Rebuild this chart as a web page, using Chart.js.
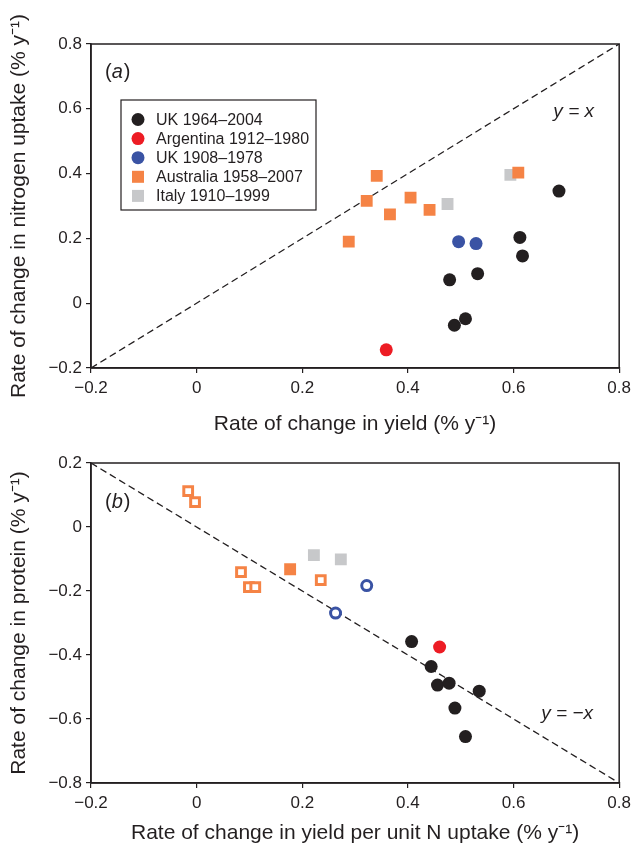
<!DOCTYPE html>
<html>
<head>
<meta charset="utf-8">
<script src="https://cdn.jsdelivr.net/npm/chart.js@4.4.1/dist/chart.umd.min.js"></script>
<style>
  body { margin: 0; background: #fff; }
  .wrap { width: 636px; position: relative; }
  canvas { display: block; }
</style>
</head>
<body>
<div class="wrap"><canvas id="chartA" width="636" height="440"></canvas></div>
<div class="wrap"><canvas id="chartB" width="636" height="409"></canvas></div>
<script>
// values
const axisTicks = [-0.2, 0, 0.2, 0.4, 0.6, 0.8];
const axisTicksB = [-0.8, -0.6, -0.4, -0.2, 0, 0.2];
const seriesNames = ["UK 1964–2004", "Argentina 1912–1980", "UK 1908–1978", "Australia 1958–2007", "Italy 1910–1999"];

// (a) yield vs nitrogen uptake
const ukRecentYieldA = [0.686, 0.612, 0.617, 0.532, 0.479, 0.509, 0.488];
const ukRecentNA = [0.346, 0.203, 0.146, 0.091, 0.072, -0.048, -0.068];
const argYieldA = [0.359];
const argNA = [-0.144];
const ukOldYieldA = [0.496, 0.529];
const ukOldNA = [0.190, 0.184];
const ausYieldA = [0.341, 0.322, 0.288, 0.366, 0.405, 0.441, 0.609];
const ausNA = [0.393, 0.316, 0.190, 0.274, 0.326, 0.288, 0.403];
const italyYieldA = [0.475, 0.594];
const italyNA = [0.306, 0.396];
const lineAX = [-0.2, 0.8];
const lineAY = [-0.2, 0.8];

// (b) yield per unit N vs protein
const ukRecentXB = [0.407, 0.444, 0.456, 0.478, 0.535, 0.489, 0.509];
const ukRecentYB = [-0.358, -0.436, -0.494, -0.488, -0.513, -0.566, -0.655];
const argXB = [0.460];
const argYB = [-0.375];
const ukOldXB = [0.322, 0.263];
const ukOldYB = [-0.183, -0.269];
const ausFilledXB = [0.177];
const ausFilledYB = [-0.132];
const ausOpenXB = [-0.016, -0.003, 0.084, 0.099, 0.111, 0.235];
const ausOpenYB = [0.112, 0.078, -0.141, -0.188, -0.188, -0.166];
const italyXB = [0.222, 0.273];
const italyYB = [-0.088, -0.101];
const lineBX = [-0.2, 0.8];
const lineBY = [0.2, -0.8];

const BLACK = "#231f20", RED = "#ed1c24", BLUE = "#3a53a4", ORANGE = "#f58345", GRAY = "#c7c8ca";
const FONT = "'Liberation Sans', Arial, sans-serif";

const zip = (xs, ys) => xs.map((x, i) => ({ x: x, y: ys[i] }));
const fmt = v => Math.abs(v) < 1e-9 ? "0" : (v < 0 ? "\u2212" + Math.abs(v).toFixed(1) : v.toFixed(1));

function circles(label, xs, ys, color, hollow) {
  return {
    label: label, data: zip(xs, ys), pointStyle: "circle",
    pointRadius: hollow ? 5 : 6.5,
    backgroundColor: hollow ? "#fff" : color,
    borderColor: color, borderWidth: hollow ? 3 : 0
  };
}
function squares(label, xs, ys, color, hollow) {
  return {
    label: label, data: zip(xs, ys), pointStyle: "rect",
    pointRadius: hollow ? 6.2 : 8.4,
    backgroundColor: hollow ? "#fff" : color,
    borderColor: color, borderWidth: hollow ? 3 : 0
  };
}
function dashed(xs, ys) {
  return {
    type: "line", label: "ref", data: zip(xs, ys), borderColor: BLACK,
    borderWidth: 1.3, borderDash: [7, 4], pointRadius: 0, fill: false, order: 10
  };
}

function axis(title, ticks, fitSize, isX) {
  return {
    type: "linear",
    min: ticks[0], max: ticks[ticks.length - 1],
    afterBuildTicks: s => { s.ticks = ticks.map(v => ({ value: v })); },
    afterFit: s => { if (isX) s.height = fitSize; else s.width = fitSize; },
    grid: { drawOnChartArea: false, drawTicks: true, tickLength: 5, color: BLACK, lineWidth: 1.2 },
    border: { display: true, color: BLACK, width: 1.5 },
    ticks: { color: BLACK, font: { family: FONT, size: 17 }, padding: isX ? 5 : 4, callback: v => fmt(v) },
    title: { display: true, text: title, color: BLACK, font: { family: FONT, size: 21 }, padding: isX ? { top: 0, bottom: 3 } : { top: 7, bottom: 0 } }
  };
}

// box round the plot area plus text labels
const frame = {
  id: "frame",
  afterDraw(chart, args, opts) {
    const { ctx, chartArea: a } = chart;
    ctx.save();
    ctx.strokeStyle = BLACK;
    ctx.lineWidth = 1.5;
    ctx.strokeRect(a.left, a.top, a.right - a.left, a.bottom - a.top);
    ctx.fillStyle = BLACK;
    ctx.textBaseline = "middle";
    // panel letter
    ctx.textAlign = "left";
    ctx.font = "20px " + FONT;
    let x = opts.panelX;
    ctx.fillText("(", x, opts.panelY); x += ctx.measureText("(").width;
    ctx.font = "italic 20px " + FONT;
    ctx.fillText(opts.letter, x, opts.panelY); x += ctx.measureText(opts.letter).width + 1;
    ctx.font = "20px " + FONT;
    ctx.fillText(")", x, opts.panelY);
    // line label
    ctx.textAlign = "right";
    ctx.font = "italic 19px " + FONT;
    ctx.fillText(opts.lineText, opts.lineX, opts.lineY);
    // legend
    if (opts.legend) {
      ctx.lineWidth = 1.2;
      ctx.strokeRect(121, 100, 195, 110);
      ctx.textAlign = "left";
      ctx.font = "16px " + FONT;
      chart.data.datasets.slice(0, 5).forEach((ds, i) => {
        const y = 119.5 + i * 19.1;
        ctx.fillStyle = ds.backgroundColor;
        if (ds.pointStyle === "circle") {
          ctx.beginPath(); ctx.arc(138, y, 6.5, 0, Math.PI * 2); ctx.fill();
        } else {
          ctx.fillRect(132, y - 6, 12, 12);
        }
        ctx.fillStyle = BLACK;
        ctx.fillText(ds.label, 156, y + 1);
      });
    }
    ctx.restore();
  }
};

function makeChart(id, datasets, xTitle, yTitle, xTicks, yTicks, xFit, top, extra) {
  return new Chart(document.getElementById(id), {
    type: "scatter",
    data: { datasets: datasets },
    options: {
      responsive: false, animation: false, devicePixelRatio: 1,
      layout: { padding: { left: 0, right: 16, top: top, bottom: 0 } },
      plugins: { legend: { display: false }, tooltip: { enabled: false }, frame: extra },
      scales: {
        x: axis(xTitle, xTicks, xFit, true),
        y: axis(yTitle, yTicks, 91, false)
      }
    },
    plugins: [frame]
  });
}

makeChart("chartA", [
  circles(seriesNames[0], ukRecentYieldA, ukRecentNA, BLACK),
  circles(seriesNames[1], argYieldA, argNA, RED),
  circles(seriesNames[2], ukOldYieldA, ukOldNA, BLUE),
  squares(seriesNames[3], ausYieldA, ausNA, ORANGE),
  squares(seriesNames[4], italyYieldA, italyNA, GRAY),
  dashed(lineAX, lineAY)
], "Rate of change in yield (% y\u207B\u00B9)", "Rate of change in nitrogen uptake (% y\u207B\u00B9)",
  axisTicks, axisTicks, 72, 44,
  { letter: "a", panelX: 105, panelY: 72, lineText: "y = x", lineX: 594, lineY: 112, legend: true });

makeChart("chartB", [
  circles(seriesNames[0], ukRecentXB, ukRecentYB, BLACK),
  circles(seriesNames[1], argXB, argYB, RED),
  circles(seriesNames[2], ukOldXB, ukOldYB, BLUE, true),
  squares(seriesNames[3], ausFilledXB, ausFilledYB, ORANGE),
  squares(seriesNames[3], ausOpenXB, ausOpenYB, ORANGE, true),
  squares(seriesNames[4], italyXB, italyYB, GRAY),
  dashed(lineBX, lineBY)
], "Rate of change in yield per unit N uptake (% y\u207B\u00B9)", "Rate of change in protein (% y\u207B\u00B9)",
  axisTicks, axisTicksB, 66, 23,
  { letter: "b", panelX: 105, panelY: 62, lineText: "y = \u2212x", lineX: 593, lineY: 274, legend: false });
</script>
</body>
</html>
